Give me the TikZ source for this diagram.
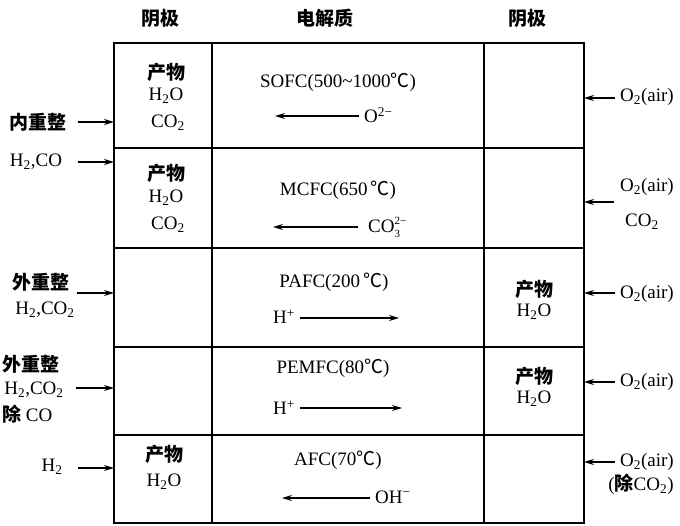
\documentclass[tikz,border=0pt]{standalone}
\usepackage{fontspec}
\setmainfont{Liberation Serif}
\newfontfamily\cjk{Noto Sans CJK SC}
\usetikzlibrary{arrows.meta}
\newcommand{\degc}{{\cjk ℃}}
\newcommand{\stackss}[2]{\rlap{\raisebox{-5pt}{\fontsize{11}{11}\selectfont #2}}\raisebox{8pt}{\fontsize{11}{11}\selectfont #1}}
\begin{document}
\begin{tikzpicture}[x=1pt,y=-1pt,
  txt/.style={font=\fontsize{19}{21}\selectfont, inner sep=0pt, anchor=center},
  zh/.style={font=\fontsize{19}{21}\selectfont\cjk\bfseries, inner sep=0pt, anchor=center},
  gridline/.style={line width=1.4pt},
  frame/.style={line width=1.9pt},
  arr/.style={line width=1.4pt, -{Stealth[length=10pt,width=6pt]}}]
\useasboundingbox (0,0) rectangle (680,526);
% table
\draw[frame] (114,43) rectangle (584,523);
\draw[gridline] (212,43) -- (212,523);
\draw[gridline] (484,43) -- (484,523);
\foreach \yy in {148,248,347,435} \draw[gridline] (114,\yy) -- (584,\yy);
% headers
\node[zh] (h1) at (160,18) {阴极};
\node[zh] (h2) at (325,18) {电解质};
\node[zh] (h3) at (527,18) {阴极};
% ---------- row 1 SOFC
\node[zh] (r1p) at (166,72) {产物};
\node[txt] (r1a) at (166,96) {H\textsubscript{2}O};
\node[txt] (r1b) at (168,123) {CO\textsubscript{2}};
\node[txt] (r1n) at (338,82) {SOFC(500\textasciitilde1000\degc)};
\node[txt,anchor=west] (r1i) at (364,115) {O\textsuperscript{2−}};
\coordinate (r1e) at (275,116);
\draw[arr] (r1i.west) ++(-5,1) -- (r1e);
\node[zh] (l1) at (38,122) {内重整};
\coordinate (l1s) at (78,122);
\coordinate (l1e) at (114,122);
\draw[arr] (l1s) -- (l1e);
\node[txt] (l1b) at (36,162) {H\textsubscript{2},CO};
\coordinate (l1bs) at (78,162);
\coordinate (l1be) at (114,162);
\draw[arr] (l1bs) -- (l1be);
\node[txt,anchor=west] (q1) at (620,97) {O\textsubscript{2}(air)};
\coordinate (q1e) at (584,98);
\draw[arr] (q1.west) ++(-5,1) -- (q1e);
% ---------- row 2 MCFC
\node[zh] (r2p) at (166,173) {产物};
\node[txt] (r2a) at (166,198) {H\textsubscript{2}O};
\node[txt] (r2b) at (168,225) {CO\textsubscript{2}};
\node[txt] (r2n) at (338,190) {MCFC(650\,\degc)};
\node[txt,anchor=west] (r2i) at (368,227) {CO\stackss{2−}{3}};
\coordinate (r2e) at (273,227);
\draw[arr] (r2i.west) ++(-10,0) -- (r2e);
\node[txt,anchor=west] (q2) at (620,187) {O\textsubscript{2}(air)};
\node[txt,anchor=west] (q2b) at (625,222) {CO\textsubscript{2}};
\coordinate (q2s) at (614,202);
\coordinate (q2e) at (584,202);
\draw[arr] (q2s) -- (q2e);
% ---------- row 3 PAFC
\node[zh] (l3) at (41,282) {外重整};
\node[txt] (l3b) at (45,310) {H\textsubscript{2},CO\textsubscript{2}};
\coordinate (l3s) at (77,293);
\coordinate (l3e) at (114,293);
\draw[arr] (l3s) -- (l3e);
\node[txt] (r3n) at (334,282) {PAFC(200\,\degc)};
\node[txt,anchor=east] (r3i) at (295,317) {H\textsuperscript{+}};
\coordinate (r3e) at (399,318);
\draw[arr] (r3i.east) ++(5,1) -- (r3e);
\node[zh] (r3p) at (534,289) {产物};
\node[txt] (r3a) at (534,312) {H\textsubscript{2}O};
\node[txt,anchor=west] (q3) at (620,294) {O\textsubscript{2}(air)};
\coordinate (q3e) at (584,293);
\draw[arr] (q3.west) ++(-5,-1) -- (q3e);
% ---------- row 4 PEMFC
\node[zh] (l4) at (31,364) {外重整};
\node[txt] (l4b) at (34,390) {H\textsubscript{2},CO\textsubscript{2}};
\node[txt,anchor=west] (l4c) at (2,414) {{\cjk\bfseries 除} CO};
\coordinate (l4s) at (76,388);
\coordinate (l4e) at (114,388);
\draw[arr] (l4s) -- (l4e);
\node[txt] (r4n) at (333,368) {PEMFC(80\degc)};
\node[txt,anchor=east] (r4i) at (295,408) {H\textsuperscript{+}};
\coordinate (r4e) at (402,408);
\draw[arr] (r4i.east) ++(5,0) -- (r4e);
\node[zh] (r4p) at (534,376) {产物};
\node[txt] (r4a) at (534,399) {H\textsubscript{2}O};
\node[txt,anchor=west] (q4) at (620,382) {O\textsubscript{2}(air)};
\coordinate (q4e) at (584,382);
\draw[arr] (q4.west) ++(-5,0) -- (q4e);
% ---------- row 5 AFC
\node[zh] (r5p) at (164,454) {产物};
\node[txt] (r5a) at (164,482) {H\textsubscript{2}O};
\node[txt] (l5) at (52,467) {H\textsubscript{2}};
\coordinate (l5s) at (78,468);
\coordinate (l5e) at (114,468);
\draw[arr] (l5s) -- (l5e);
\node[txt] (r5n) at (338,460) {AFC(70\degc)};
\node[txt,anchor=west] (r5i) at (375,497) {OH\textsuperscript{−}};
\coordinate (r5e) at (282,498);
\draw[arr] (r5i.west) ++(-5,1) -- (r5e);
\node[txt,anchor=west] (q5) at (620,462) {O\textsubscript{2}(air)};
\node[txt] (q5b) at (641,484) {({\cjk\bfseries 除}CO\textsubscript{2})};
\coordinate (q5e) at (584,462);
\draw[arr] (q5.west) ++(-5,0) -- (q5e);
\end{tikzpicture}
\end{document}
